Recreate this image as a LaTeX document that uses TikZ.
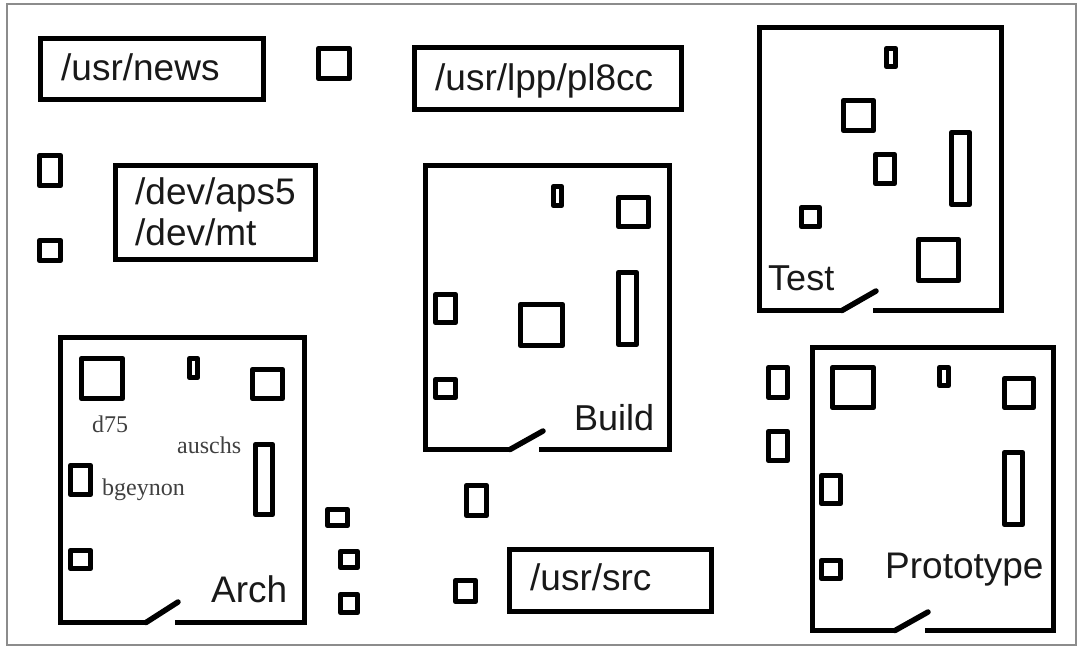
\documentclass[tikz,border=0pt]{standalone}
\usepackage{fontspec}
\setmainfont{Liberation Sans}
\newfontfamily\labserif{Liberation Serif}
\begin{document}
\begin{tikzpicture}[x=1pt,y=-1pt,
  wall/.style={line width=5.5pt, line join=miter, line cap=butt},
  door/.style={line width=5.5pt, line cap=round},
  lbox/.style={line width=5.5pt, line join=miter},
  furn/.style={line width=5.5pt, line join=round},
  big/.style={inner sep=0pt, anchor=base west, font=\fontsize{37}{44}\selectfont, text=black!90},
  small/.style={inner sep=0pt, anchor=base west, font=\labserif\fontsize{24}{28}\selectfont, text=black!75},
  frame/.style={draw=black!45, line width=1.3pt}]
\useasboundingbox (0,0) rectangle (1079,654);
\fill[white] (0,0) rectangle (1079,654);
\draw[frame] (7,4) rectangle (1076,645);
\newcommand\fb[4]{\draw[furn] ({#1+2.5},{#2+2.5}) rectangle ({#3-2.5},{#4-2.5});}
\newcommand\lb[4]{\draw[lbox] ({#1+2.5},{#2+2.5}) rectangle ({#3-2.5},{#4-2.5});}
% labelled boxes
\lb{38}{36}{266}{102}
\node[big] (news) at (61,80) {/usr/news};
\lb{412}{45}{684}{112}
\node[big] (lpp) at (435,90) {/usr/lpp/pl8cc};
\lb{113}{163}{318}{262}
\node[big] (aps) at (135,204) {/dev/aps5};
\node[big] (mt) at (135,245) {/dev/mt};
\lb{507}{547}{714}{614}
\node[big] (src) at (530,590) {/usr/src};
% loose items
\fb{316}{46}{352}{81}
\fb{37}{153}{63}{188}
\fb{37}{238}{63}{263}
\fb{325}{507}{350}{528}
\fb{338}{549}{360}{570}
\fb{338}{592}{360}{615}
\fb{464}{483}{489}{518}
\fb{453}{578}{478}{604}
\fb{766}{365}{790}{400}
\fb{766}{429}{790}{463}
% Test room
\draw[wall] (873,310.5) -- (1001.5,310.5) -- (1001.5,27.5) -- (759.5,27.5) -- (759.5,310.5) -- (842,310.5);
\draw[door] (842,310.5) -- (876,291);
\node[big, font=\fontsize{36}{42}\selectfont] (test) at (768,290) {Test};
\fb{884}{46}{898}{69}
\fb{841}{98}{876}{133}
\fb{873}{152}{897}{186}
\fb{949}{130}{972}{207}
\fb{799}{205}{822}{229}
\fb{916}{237}{961}{283}
% Build room
\draw[wall] (539,449.5) -- (669.5,449.5) -- (669.5,165.5) -- (425.5,165.5) -- (425.5,449.5) -- (510,449.5);
\draw[door] (510,449.5) -- (543,431);
\node[big, font=\fontsize{36}{42}\selectfont] (build) at (574,430) {Build};
\fb{551}{184}{564}{208}
\fb{616}{195}{651}{229}
\fb{616}{270}{639}{347}
\fb{433}{292}{458}{325}
\fb{518}{302}{565}{348}
\fb{433}{377}{458}{400}
% Arch room
\draw[wall] (175,622.5) -- (304.5,622.5) -- (304.5,337.5) -- (60.5,337.5) -- (60.5,622.5) -- (146,622.5);
\draw[door] (146,622.5) -- (178,602);
\node[big] (arch) at (211,602) {Arch};
\fb{79}{356}{125}{401}
\fb{187}{356}{200}{380}
\fb{250}{367}{285}{401}
\fb{253}{442}{275}{517}
\fb{68}{463}{93}{497}
\fb{68}{548}{93}{571}
\node[small] (d75) at (92,432) {d75};
\node[small] (auschs) at (177,453) {auschs};
\node[small] (bgeynon) at (102,495) {bgeynon};
% Prototype room
\draw[wall] (925,630.5) -- (1053.5,630.5) -- (1053.5,347.5) -- (812.5,347.5) -- (812.5,630.5) -- (895,630.5);
\draw[door] (895,630.5) -- (928,612);
\node[big] (proto) at (885,578) {Prototype};
\fb{830}{365}{876}{410}
\fb{937}{365}{951}{388}
\fb{1002}{376}{1036}{410}
\fb{1002}{450}{1025}{527}
\fb{819}{473}{843}{506}
\fb{819}{558}{843}{581}
\end{tikzpicture}
\end{document}
